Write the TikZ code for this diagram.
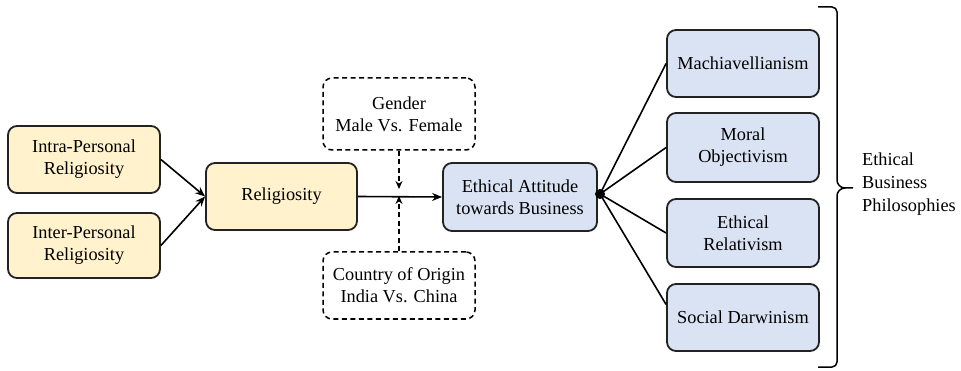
\documentclass[tikz,border=0pt]{standalone}
\usepackage{fontspec}
\setmainfont{Liberation Serif}
\usetikzlibrary{arrows.meta,calc}
\definecolor{boxyellow}{HTML}{FFF2CC}
\definecolor{boxblue}{HTML}{DAE3F3}
\definecolor{edge}{HTML}{222222}
\begin{document}
\begin{tikzpicture}[x=1pt,y=-1pt,
  every node/.style={font=\fontsize{18.3}{22}\selectfont, align=center, inner sep=0pt},
  ybox/.style={draw=edge, line width=1.8pt, rounded corners=9pt, fill=boxyellow, minimum width=152pt},
  bbox/.style={draw=edge, line width=1.8pt, rounded corners=9pt, fill=boxblue, minimum width=152pt},
  dbox/.style={draw=black, line width=1.5pt, dashed, dash pattern=on 5pt off 3.5pt, rounded corners=9pt, minimum width=152pt},
  conn/.style={draw=black, line width=1.6pt},
  arr/.style={conn, -{Stealth[length=10pt,width=8pt]}}
]
\useasboundingbox (0,0) rectangle (961,371);

\node[ybox, minimum height=67pt] (intra) at (84,159.5) {Intra-Personal\\Religiosity};
\node[ybox, minimum height=65pt] (inter) at (84,245.5) {Inter-Personal\\Religiosity};
\node[ybox, minimum width=151pt, minimum height=67pt] (relig) at (281.5,196.5) {Religiosity};

\node[dbox, minimum height=72pt] (gender) at (399,114) {Gender\\Male Vs. Female};
\node[dbox, minimum height=67pt] (country) at (399,285.5) {Country of Origin\\India Vs. China};

\node[bbox, minimum width=154pt, minimum height=68pt] (eth) at (520,197) {Ethical Attitude\\towards Business};

\node[bbox, minimum height=67pt] (mach) at (743,63.5) {Machiavellianism};
\node[bbox, minimum height=69pt] (moral) at (743,147.5) {Moral\\Objectivism};
\node[bbox, minimum height=68pt] (rel) at (743,233) {Ethical\\Relativism};
\node[bbox, minimum height=67pt] (soc) at (743,317.5) {Social Darwinism};

\node[anchor=west, align=left, font=\fontsize{18.3}{23}\selectfont] (ebp) at (862,184) {Ethical\\Business\\Philosophies};

% arrows
\draw[arr] (intra.east) -- (relig.west);
\draw[arr] (inter.east) -- (relig.west);
\draw[arr] (relig.east) -- (eth.west);

\coordinate (gtip) at (399,189);
\coordinate (ctip) at (399,196);
\draw[conn, line width=1.4pt, dashed, dash pattern=on 5pt off 3.5pt, -{Stealth[length=8pt,width=7pt]}] (gender.south) -- (gtip);
\draw[conn, line width=1.4pt, dashed, dash pattern=on 5pt off 3.5pt, -{Stealth[length=8pt,width=7pt]}] (country.north) -- (ctip);

% fan
\coordinate (hub) at (600,194);
\draw[conn] (hub) -- (mach.west);
\draw[conn] (hub) -- (moral.west);
\draw[conn] (hub) -- (rel.west);
\draw[conn] (hub) -- ($(soc.west)+(0,-13)$);
\fill[black] (hub) circle (5pt);

% brace
\coordinate (bt) at (818,7);
\coordinate (bb) at (818,367);
\coordinate (btip) at (853,188);
\draw[line width=1.5pt] (bt) -- (832,7) to[out=0,in=90] (837,12) -- (837,180)
  to[out=-90,in=180] (845,188) -- (btip)
  (845,188) to[out=180,in=90] (837,196) -- (837,362)
  to[out=-90,in=0] (832,367) -- (bb);
\end{tikzpicture}
\end{document}
